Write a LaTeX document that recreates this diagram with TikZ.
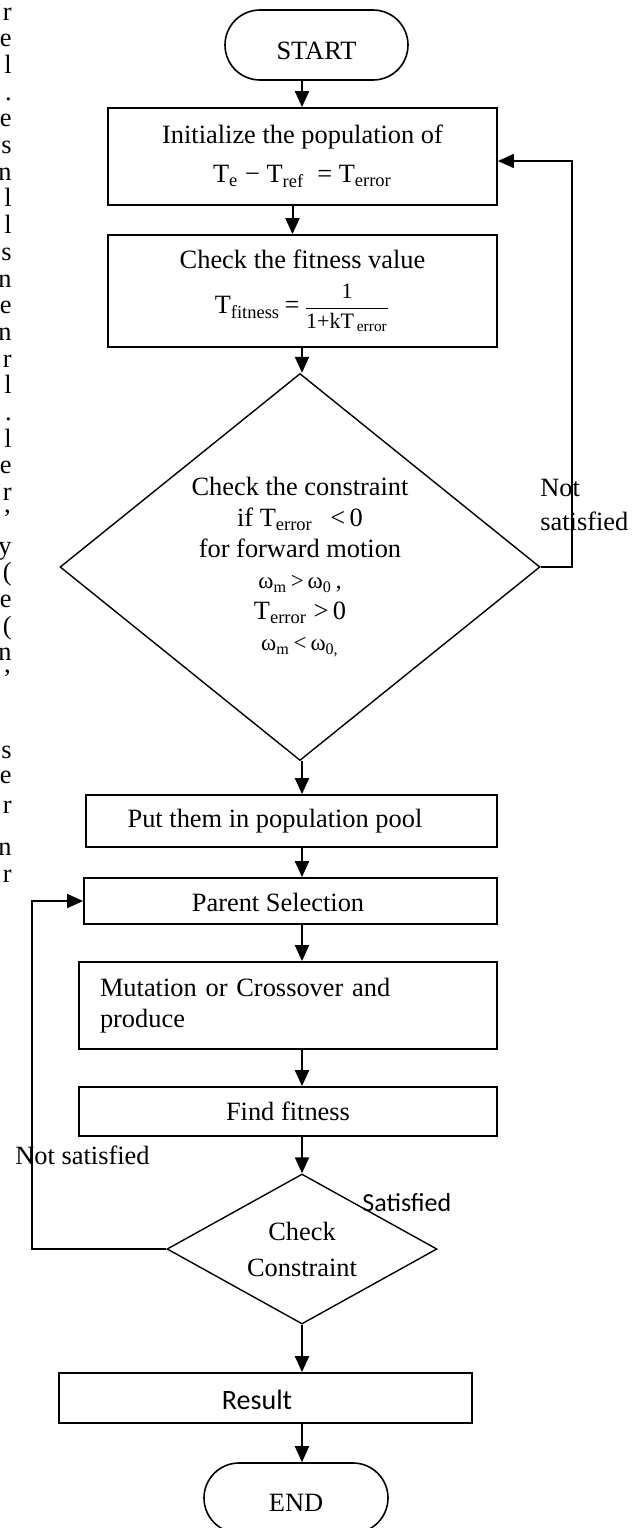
\documentclass[tikz,border=0pt]{standalone}
\usepackage{fontspec}
\usepackage{amsmath}
\setmainfont{Liberation Serif}
\newfontfamily\calibri{Carlito}
\usetikzlibrary{arrows.meta,shapes.geometric}
\begin{document}
\begin{tikzpicture}[x=0.5pt,y=-0.5pt,
  every node/.style={font=\fontsize{13.2}{15.5}\selectfont, inner sep=0pt},
  box/.style={draw, line width=0.9pt, rectangle},
  term/.style={draw, line width=0.8pt, rectangle, rounded corners=17.5pt, minimum height=35pt},
  dec/.style={draw, line width=0.7pt, diamond, align=center},
  tip/.tip={Triangle[width=7pt,length=8pt]},
  arr/.style={line width=1pt, -tip},
  back/.style={line width=0.75pt, -tip}
]
\useasboundingbox (0,0) rectangle (638,1528);
\coordinate (ax) at (302,0);

% stray letters at the left edge
\foreach \c [count=\i] in {r,e,l,.,e,s,n,l,l,s,n,e,n,r,l,.,l,e,r,',y,{(},e,{(},n,'}
  \node[anchor=base east] (m\i) at (12,{20+26.7*(\i-1)}) {\c};
\foreach \c/\yy [count=\i] in {s/758,e/783,r/813,n/855,r/882}
  \node[anchor=base east] (k\i) at (12,\yy) {\c};

\node[term, minimum width=91.5pt, text height=15pt] (start) at (316.5,45) {START};
\node[box, align=center, minimum width=194.5pt, minimum height=48.5pt] (b1) at (302.5,156.5)
  {Initialize the population of\\[4pt]
   T\textsubscript{e} − T\textsubscript{ref}\ \ = T\textsubscript{error}};
\node[box, align=center, minimum width=194.5pt, minimum height=56pt] (b2) at (302.5,291)
  {Check the fitness value\\[7pt]
   T\textsubscript{fitness}\,=\,{\fontsize{11}{13}\selectfont$\dfrac{\text{1}}{\text{1+kT}_{\,\text{error}}}$}};
\node[dec, aspect=1.24, minimum width=240pt, minimum height=193.5pt] (d1) at (300,567)
  {Check the constraint\\
   if T\textsubscript{error}\ \ \,<\,0\\
   for forward motion\\
   {\fontsize{11.5}{15.5}\selectfont ω\textsubscript{m}\,>\,ω\textsubscript{0}\,,}\\
   T\textsubscript{error}\ >\,0\\
   {\fontsize{11.5}{15.5}\selectfont ω\textsubscript{m}\,<\,ω\textsubscript{0,}}};
\node[anchor=west, align=left, font=\fontsize{13.2}{17}\selectfont] (ns1) at (540,505) {Not\\satisfied};

\node[box, minimum width=205.5pt, minimum height=26pt] (b3) at (291.5,821)
  {Put them in population pool\hspace*{16.5pt}};
\node[box, minimum width=206.5pt, minimum height=23pt, text height=11pt] (b4) at (290.5,901)
  {Parent Selection\hspace*{12.5pt}};
\node[box, align=left, text width=188pt, inner xsep=10.5pt, minimum height=43.5pt] (b5) at (288,1005.5)
  {Mutation or Crossover and\\produce};
\node[box, minimum width=209pt, minimum height=24.5pt] (b6) at (288,1111.5) {Find fitness};
\node[dec, aspect=1.8, minimum width=135pt, minimum height=75pt, font=\fontsize{13.2}{18}\selectfont] (d2) at (302,1249)
  {Check\\Constraint};
\node[anchor=west] (ns2) at (15,1155) {Not satisfied};
\node[anchor=west, font=\calibri\fontsize{13}{15}\selectfont] (sat) at (362,1203) {Satisfied};
\node[box, minimum width=206.5pt, minimum height=25pt, text height=11.5pt, font=\calibri\fontsize{14}{16}\selectfont] (b7) at (265.5,1398)
  {Result\hspace*{8.5pt}};
\node[term, minimum width=92pt, text height=14pt] (end) at (296,1498) {END};

% main flow
\draw[arr] (start.south -| ax) -- (b1.north -| ax);
\draw[arr] ([xshift=-5pt]b1.south) -- ([xshift=-5pt]b2.north);
\draw[arr] (b2.south -| ax) -- (d1.north -| ax);
\draw[arr] (d1.south -| ax) -- (b3.north -| ax);
\draw[arr] (b3.south -| ax) -- (b4.north -| ax);
\draw[arr] (b4.south -| ax) -- (b5.north -| ax);
\draw[arr] (b5.south -| ax) -- (b6.north -| ax);
\draw[arr] (b6.south -| ax) -- (d2.north);
\draw[arr] (d2.south) -- (b7.north -| ax);
\draw[arr] (b7.south -| ax) -- (end.north -| ax);

% feedback loops
\coordinate (rx) at (572,161);
\draw[back] (d1.east) -| (rx) -- (rx -| b1.east);
\coordinate (lx) at (32,1000);
\draw[back] (d2.west) -| (lx) |- (b4.west);
\end{tikzpicture}
\end{document}
